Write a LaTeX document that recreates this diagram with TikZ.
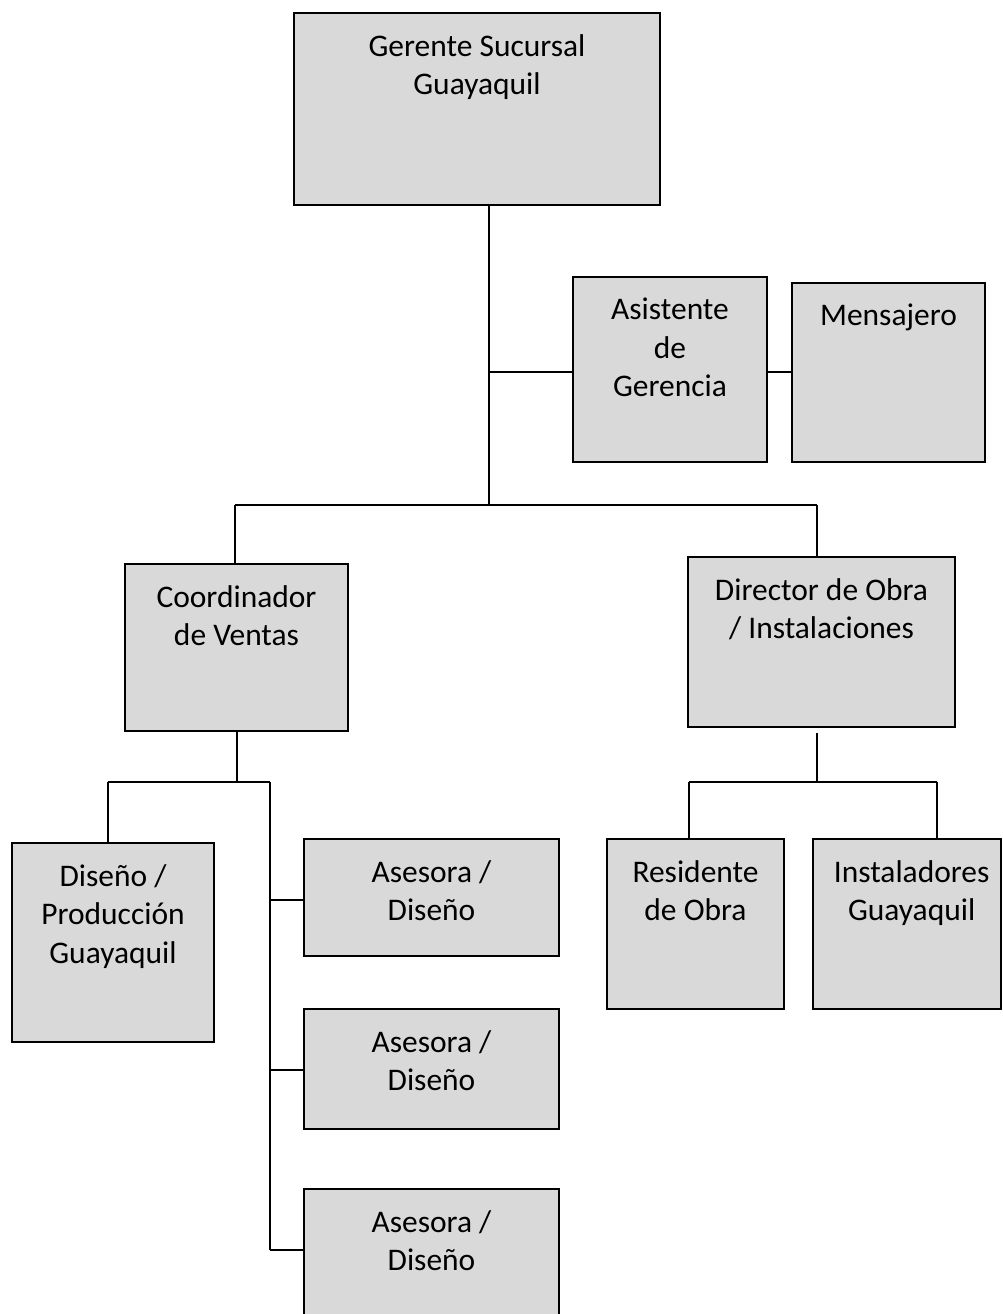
\documentclass[tikz,border=0pt]{standalone}
\usepackage{fontspec}
\setmainfont{Carlito}
\usetikzlibrary{calc}
\definecolor{boxgray}{HTML}{D9D9D9}

\begin{document}
\begin{tikzpicture}[x=0.75pt, y=-0.75pt,
  box/.style 2 args={draw=black, line width=1.5pt, fill=boxgray, inner sep=0pt,
    minimum width=#1*0.75pt, minimum height=#2*0.75pt},
  lbl/.style={anchor=north, yshift=-16.5pt, align=center, inner sep=0pt,
    font=\fontsize{23.6}{28.9}\selectfont},
  conn/.style={line width=1.9pt}]
\useasboundingbox (0,0) rectangle (1003,1314);
% boxes
\node[box={366}{192}, label={[lbl]north:{Gerente Sucursal\\Guayaquil}}] (ger) at (477,109) {};
\node[box={194}{185}, label={[lbl]north:{Asistente\\de\\Gerencia}}] (asis) at (670,369.5) {};
\node[box={193}{179}, label={[lbl]north:{Mensajero}}] (mens) at (888.5,372.5) {};
\node[box={223}{167}, label={[lbl]north:{Coordinador\\de Ventas}}] (coord) at (236.5,647.5) {};
\node[box={267}{170}, label={[lbl]north:{Director de Obra\\/ Instalaciones}}] (dir) at (821.5,642) {};
\node[box={202}{199}, label={[lbl]north:{Diseño /\\Producción\\Guayaquil}}] (dis) at (113,942.5) {};
\node[box={255}{117}, label={[lbl]north:{Asesora /\\Diseño}}] (ase1) at (431.5,897.5) {};
\node[box={255}{120}, label={[lbl]north:{Asesora /\\Diseño}}] (ase2) at (431.5,1069) {};
\node[box={255}{150}, label={[lbl]north:{Asesora /\\Diseño}}] (ase3) at (431.5,1264) {};
\node[box={177}{170}, label={[lbl]north:{Residente\\de Obra}}] (res) at (695.5,924) {};
\node[box={188}{170}, label={[lbl, xshift=3.5pt]north:{Instaladores\\Guayaquil}}] (inst) at (907,924) {};
% junctions
\coordinate (j1) at (489,505);
\coordinate (ja) at (489,372);
\coordinate (jl) at (235,505);
\coordinate (jr) at (817,505);
\coordinate (j2) at (237,782);
\coordinate (j2l) at (108,782);
\coordinate (j2r) at (270,782);
\coordinate (j3) at (817,782);
\coordinate (j3l) at (689,782);
\coordinate (j3r) at (937,782);
\foreach \i in {1,2,3}
  \coordinate (a\i) at ($(ase\i.north west)+(0,62)$);
% connectors
\draw[conn] (ger.south -| j1) -- (j1);
\draw[conn] (ja) -- (ja -| asis.west);
\draw[conn] (asis.east |- ja) -- (ja -| mens.west);
\draw[conn] (jl) -- (jr);
\draw[conn] (jl) -- (jl |- coord.north);
\draw[conn] (jr) -- (jr |- dir.north);
\draw[conn] (coord.south -| j2) -- (j2);
\draw[conn] (j2l) -- (j2r);
\draw[conn] (j2l) -- (j2l |- dis.north);
\draw[conn] (j2r) -- (a3 -| j2r);
\foreach \i in {1,2,3}
  \draw[conn] (a\i -| j2r) -- (a\i);
\draw[conn, shorten <=3.75pt] (dir.south -| j3) -- (j3);
\draw[conn] (j3l) -- (j3r);
\draw[conn] (j3l) -- (j3l |- res.north);
\draw[conn] (j3r) -- (j3r |- inst.north);
\end{tikzpicture}
\end{document}
